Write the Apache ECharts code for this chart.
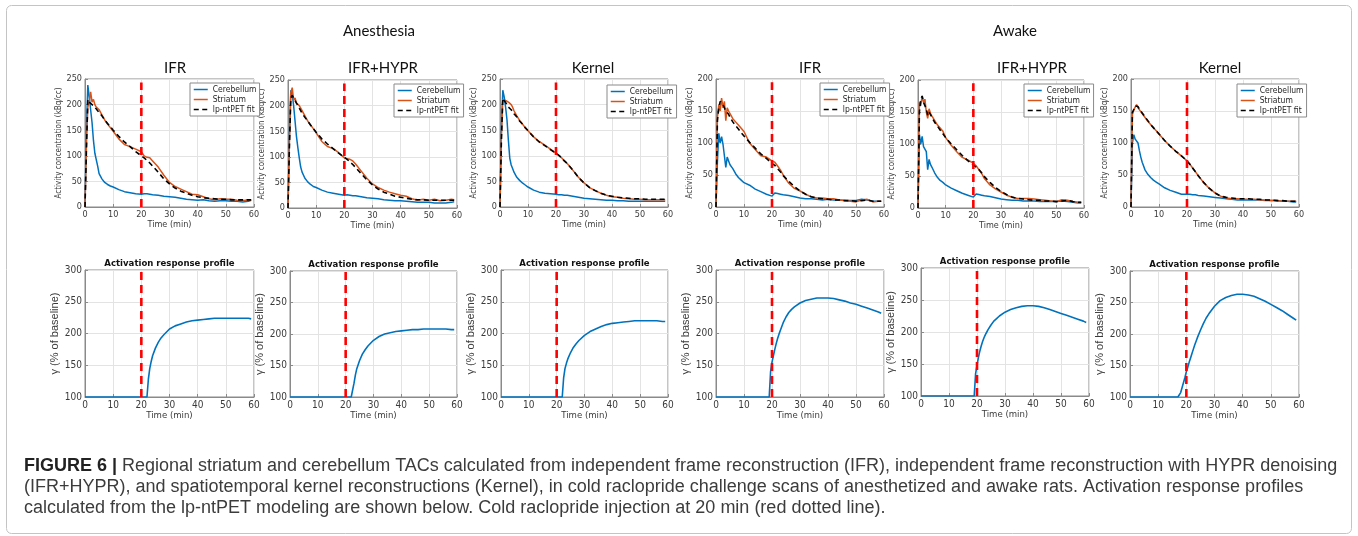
<!DOCTYPE html>
<html>
<head>
<meta charset="utf-8">
<title>Figure 6 - TACs and activation response profiles</title>
<script src="https://cdn.jsdelivr.net/npm/echarts@6/dist/echarts.min.js"></script>
<style>
  html, body { margin: 0; padding: 0; background: #ffffff; }
  #main { width: 1358px; height: 536px; }
</style>
</head>
<body>
<div id="main"></div>
<script>
// frame mid times (min) shared by all TAC panels
var tacTimes = [0, 0.5, 1, 1.5, 2, 2.5, 3, 3.5, 4, 4.5, 5, 6, 7, 8, 9, 10, 12, 14, 16, 18, 20,
  21, 22, 23, 24, 26, 28, 30, 32, 34, 36, 38, 40, 42, 44, 46, 48, 50, 52, 54, 56, 58, 59];

// Anesthesia - IFR
var cerAnIFR = [0, 150, 238, 215, 190, 165, 130, 105, 102, 80, 65, 55, 48, 44, 41, 39, 34, 30, 28, 26, 25,
  26, 26, 25, 24, 23, 21, 20, 19, 17, 15, 14, 13, 14, 12, 11, 12, 12, 11, 11, 10, 11, 13];
var strAnIFR = [0, 120, 195, 205, 225, 205, 210, 200, 195, 198, 190, 180, 170, 162, 155, 148, 133, 122, 118, 113, 108,
  100, 97, 96, 90, 78, 62, 48, 40, 35, 30, 25, 24, 20, 16, 14, 16, 15, 15, 13, 12, 14, 13];
var fitAnIFR = [0, 110, 210, 205, 203, 200, 198, 195, 192, 188, 185, 178, 170, 163, 157, 150, 138, 127, 118, 108, 100,
  96, 91, 86, 80, 68, 55, 45, 37, 31, 27, 23, 20, 18, 17, 16, 15, 15, 14, 14, 14, 14, 14];

// Anesthesia - IFR+HYPR
var cerAnHYPR = [0, 140, 230, 222, 200, 170, 140, 118, 98, 80, 70, 58, 51, 46, 42, 40, 35, 31, 29, 27, 25,
  26, 25, 24, 24, 22, 20, 19, 18, 16, 15, 14, 14, 13, 12, 11, 11, 11, 10, 10, 10, 11, 12];
var strAnHYPR = [0, 130, 225, 235, 210, 215, 205, 202, 200, 195, 190, 180, 170, 162, 155, 147, 130, 120, 116, 108, 98,
  96, 95, 92, 86, 72, 58, 47, 40, 35, 31, 28, 25, 23, 18, 15, 17, 15, 17, 14, 15, 17, 16];
var fitAnHYPR = [0, 120, 215, 220, 215, 210, 205, 200, 195, 190, 185, 177, 170, 162, 155, 148, 135, 125, 116, 107, 99,
  95, 90, 85, 79, 67, 55, 45, 37, 31, 27, 23, 21, 19, 17, 16, 16, 15, 15, 15, 15, 15, 15];

// Anesthesia - Kernel
var cerAnKernel = [0, 150, 228, 215, 195, 170, 130, 95, 82, 75, 68, 58, 52, 47, 43, 39, 33, 29, 27, 26, 25,
  24, 24, 23, 23, 21, 19, 17, 16, 15, 14, 13, 13, 12, 12, 11, 11, 11, 11, 11, 11, 11, 11];
var strAnKernel = [0, 140, 210, 210, 208, 207, 205, 203, 200, 195, 188, 178, 169, 162, 155, 149, 137, 128, 121, 113, 105,
  101, 96, 90, 85, 72, 58, 47, 38, 32, 27, 23, 20, 19, 17, 16, 15, 15, 14, 14, 14, 14, 14];
var fitAnKernel = [0, 130, 212, 208, 205, 200, 195, 192, 190, 186, 182, 176, 168, 162, 155, 149, 137, 127, 120, 112, 105,
  101, 96, 90, 85, 72, 58, 47, 38, 32, 27, 23, 21, 19, 18, 17, 16, 16, 15, 15, 15, 15, 15];

// Awake - IFR
var cerAwIFR = [0, 70, 115, 100, 110, 98, 100, 62, 78, 72, 66, 60, 52, 46, 42, 38, 34, 28, 24, 20, 17,
  22, 21, 20, 19, 18, 16, 14, 13, 13, 12, 11, 12, 11, 11, 10, 10, 10, 12, 11, 9, 9, 9];
var strAwIFR = [0, 140, 160, 150, 170, 155, 165, 135, 155, 150, 147, 138, 133, 128, 123, 118, 100, 90, 80, 78, 72,
  70, 64, 58, 50, 37, 29, 25, 20, 16, 14, 14, 13, 13, 11, 10, 9, 8, 11, 12, 8, 9, 9];
var fitAwIFR = [0, 135, 155, 165, 168, 160, 155, 150, 148, 145, 140, 133, 127, 122, 116, 111, 101, 92, 83, 76, 68,
  65, 60, 55, 49, 40, 32, 25, 20, 16, 14, 13, 12, 11, 11, 10, 10, 9, 10, 11, 9, 9, 9];

// Awake - IFR+HYPR
var cerAwHYPR = [0, 115, 100, 112, 96, 92, 88, 60, 76, 68, 64, 55, 48, 43, 40, 36, 31, 27, 23, 20, 17,
  22, 21, 20, 19, 18, 16, 14, 13, 12, 12, 11, 11, 11, 10, 10, 10, 10, 11, 10, 9, 8, 8];
var strAwHYPR = [0, 165, 160, 175, 165, 170, 150, 140, 155, 148, 144, 137, 130, 125, 120, 110, 98, 88, 79, 75, 70,
  66, 60, 54, 46, 36, 30, 25, 20, 17, 15, 15, 15, 14, 13, 12, 11, 10, 13, 12, 10, 9, 9];
var fitAwHYPR = [0, 150, 170, 175, 165, 160, 155, 145, 150, 146, 142, 134, 128, 122, 116, 110, 100, 91, 82, 74, 67,
  64, 60, 55, 49, 40, 32, 26, 21, 17, 15, 14, 13, 12, 12, 11, 11, 10, 11, 12, 10, 9, 9];

// Awake - Kernel
var cerAwKernel = [0, 100, 113, 106, 105, 100, 88, 78, 70, 64, 58, 51, 46, 42, 39, 36, 30, 26, 23, 20, 20,
  20, 19, 19, 18, 17, 16, 15, 14, 13, 12, 11, 11, 11, 11, 11, 10, 10, 10, 9, 9, 8, 8];
var strAwKernel = [0, 145, 152, 155, 160, 155, 152, 149, 146, 143, 140, 134, 129, 124, 119, 114, 104, 95, 87, 80, 72,
  67, 61, 55, 49, 38, 29, 22, 17, 14, 13, 13, 12, 12, 12, 11, 11, 10, 10, 9, 9, 9, 9];
var fitAwKernel = [0, 148, 152, 158, 160, 157, 153, 150, 147, 144, 141, 135, 129, 124, 119, 114, 104, 95, 87, 80, 72,
  67, 61, 55, 49, 38, 29, 22, 17, 15, 14, 13, 13, 13, 12, 12, 11, 11, 10, 10, 9, 9, 9];

// activation response profiles (% of baseline)
var arpTimes = [0, 5, 10, 15, 17, 17.5, 18, 18.5, 19, 19.5, 20, 20.5, 21, 21.5, 22, 22.5, 23, 23.5, 24,
  25, 26, 27, 28, 30, 32, 34, 36, 38, 40, 42, 44, 46, 48, 50, 52, 54, 56, 58, 59];
var arpAnIFR = [100, 100, 100, 100, 100, 100, 100, 100, 100, 100, 100, 100, 100, 100, 100, 128, 145, 156, 165,
  177, 186, 193, 198, 207, 212, 215, 218, 220, 221, 222, 223, 224, 224, 224, 224, 224, 224, 224, 223];
var arpAnHYPR = [100, 100, 100, 100, 100, 100, 100, 100, 100, 100, 100, 100, 100, 100, 100, 100, 122, 135, 145,
  158, 168, 175, 181, 190, 196, 200, 202, 204, 205, 206, 207, 207, 208, 208, 208, 208, 208, 207, 207];
var arpAnKernel = [100, 100, 100, 100, 100, 100, 100, 100, 100, 100, 100, 100, 100, 100, 100, 130, 145, 153, 160,
  170, 178, 184, 189, 197, 203, 207, 211, 214, 216, 217, 218, 219, 220, 220, 220, 220, 220, 219, 219];
var arpAwIFR = [100, 100, 100, 100, 100, 100, 100, 100, 100, 140, 155, 165, 175, 184, 192, 199, 205, 211, 217,
  226, 233, 238, 242, 248, 252, 254, 256, 256, 256, 255, 253, 251, 248, 246, 243, 240, 237, 234, 232];
var arpAwHYPR = [100, 100, 100, 100, 100, 100, 100, 100, 100, 135, 148, 160, 170, 178, 185, 191, 196, 200, 204,
  211, 217, 221, 225, 231, 235, 238, 240, 241, 241, 240, 238, 235, 232, 229, 226, 223, 220, 217, 215];
var arpAwKernel = [100, 100, 100, 100, 100, 100, 107, 115, 123, 131, 140, 147, 155, 162, 169, 176, 183, 189, 195,
  206, 216, 225, 232, 244, 253, 258, 261, 263, 263, 262, 260, 256, 252, 247, 242, 237, 231, 225, 222];

// cold raclopride injection (red dashed line)
var injTime = 20;
var injSpanAnesthesia = [0, 243];
var injSpanAwake = [0, 195];
var injSpanArp = [100, 300];

var seriesNames = ['Cerebellum', 'Striatum', 'lp-ntPET fit'];
var panelTitles = ['IFR', 'IFR+HYPR', 'Kernel', 'IFR', 'IFR+HYPR', 'Kernel'];
var groupTitles = ['Anesthesia', 'Awake'];
var arpTitle = 'Activation response profile';
var captionBold = 'FIGURE 6 | ';
var captionLines = [
  'Regional striatum and cerebellum TACs calculated from independent frame reconstruction (IFR), independent frame reconstruction with HYPR denoising',
  '(IFR+HYPR), and spatiotemporal kernel reconstructions (Kernel), in cold raclopride challenge scans of anesthetized and awake rats. Activation response profiles',
  'calculated from the lp-ntPET modeling are shown below. Cold raclopride injection at 20 min (red dotted line).'
];

var BLUE = '#0072BD', ORANGE = '#D95319', RED = '#FF0000';
var AXIS = '#8a8a8a', GRIDLINE = '#e3e3e3', TEXT = '#3a3a3a';
var NARROW = "'Liberation Sans Narrow', 'DejaVu Sans Condensed', 'Liberation Sans', sans-serif";
var SANS = "'Liberation Sans', Arial, sans-serif";

// plot boxes [left, top, width, height] in px
var tacPanels = [
  {box: [85, 79, 169, 128], yMax: 250, cer: cerAnIFR, str: strAnIFR, fit: fitAnIFR, inj: injSpanAnesthesia, legend: [190, 83], tx: 175},
  {box: [288, 80, 169, 128], yMax: 250, cer: cerAnHYPR, str: strAnHYPR, fit: fitAnHYPR, inj: injSpanAnesthesia, legend: [394, 84], tx: 383},
  {box: [500, 79, 168, 128], yMax: 250, cer: cerAnKernel, str: strAnKernel, fit: fitAnKernel, inj: injSpanAnesthesia, legend: [607, 85], tx: 593},
  {box: [716, 79, 168, 128], yMax: 200, cer: cerAwIFR, str: strAwIFR, fit: fitAwIFR, inj: injSpanAwake, legend: [820, 83], tx: 810},
  {box: [918, 80, 166, 128], yMax: 200, cer: cerAwHYPR, str: strAwHYPR, fit: fitAwHYPR, inj: injSpanAwake, legend: [1024, 84], tx: 1032},
  {box: [1131, 79, 168, 128], yMax: 200, cer: cerAwKernel, str: strAwKernel, fit: fitAwKernel, inj: injSpanAwake, legend: [1237, 84], tx: 1220}
];
var arpPanels = [
  {box: [85, 270, 169, 127], arp: arpAnIFR},
  {box: [290, 271, 167, 126], arp: arpAnHYPR},
  {box: [501, 270, 167, 127], arp: arpAnKernel},
  {box: [716, 270, 168, 127], arp: arpAwIFR},
  {box: [921, 268, 168, 128], arp: arpAwHYPR},
  {box: [1130, 271, 169, 126], arp: arpAwKernel}
];

function pairs(xs, ys) {
  return xs.map(function (x, i) { return [x, ys[i]]; });
}

function axisBase(labelSize) {
  return {
    type: 'value',
    nameLocation: 'middle',
    axisLine: {show: true, lineStyle: {color: AXIS, width: 1}},
    axisTick: {show: true, inside: true, length: 3, lineStyle: {color: AXIS}},
    axisLabel: {color: TEXT, fontSize: labelSize, fontFamily: NARROW, margin: 3},
    splitLine: {show: true, lineStyle: {color: GRIDLINE, width: 1}}
  };
}

var grids = [], xAxes = [], yAxes = [], series = [], legends = [], graphics = [];

function addGrid(box) {
  grids.push({
    left: box[0], top: box[1], width: box[2], height: box[3],
    show: true, borderColor: AXIS, borderWidth: 1, backgroundColor: '#fff',
    containLabel: false, outerBoundsMode: 'none'
  });
  return grids.length - 1;
}

function lineSeries(name, idx, data, color, width, dash, z) {
  return {
    name: name, type: 'line', xAxisIndex: idx, yAxisIndex: idx,
    data: data, symbol: 'none', showSymbol: false, animation: false, z: z,
    color: color, itemStyle: {color: color},
    lineStyle: {color: color, width: width, type: dash}
  };
}

// top row: time activity curves
tacPanels.forEach(function (p, i) {
  var idx = addGrid(p.box);
  xAxes.push(Object.assign(axisBase(9), {
    gridIndex: idx, min: 0, max: 60, interval: 10,
    name: 'Time (min)', nameGap: 12,
    nameTextStyle: {color: TEXT, fontSize: 9, fontFamily: NARROW}
  }));
  yAxes.push(Object.assign(axisBase(9), {
    gridIndex: idx, min: 0, max: p.yMax, interval: 50,
    name: 'Activity concentration (kBq/cc)', nameGap: 19,
    nameTextStyle: {color: TEXT, fontSize: 8, fontFamily: NARROW}
  }));
  series.push(lineSeries(seriesNames[0], idx, pairs(tacTimes, p.cer), BLUE, 1.5, 'solid', 2));
  series.push(lineSeries(seriesNames[1], idx, pairs(tacTimes, p.str), ORANGE, 1.5, 'solid', 3));
  series.push(lineSeries(seriesNames[2], idx, pairs(tacTimes, p.fit), '#000000', 1.6, [5, 3.5], 4));
  series.push(lineSeries('injection', idx, [[injTime, p.inj[0]], [injTime, p.inj[1]]], RED, 2.6, [8, 5], 5));
  legends.push({
    left: p.legend[0], top: p.legend[1], orient: 'vertical',
    data: seriesNames, selectedMode: false,
    itemWidth: 14, itemHeight: 8, itemGap: 1,
    padding: [2, 3, 2, 3], borderColor: AXIS, borderWidth: 1, borderRadius: 0,
    backgroundColor: '#ffffff',
    // hide the marker dot, keep the line sample
    itemStyle: {opacity: 0, color: 'rgba(0,0,0,0)', borderColor: 'rgba(0,0,0,0)'},
    lineStyle: {width: 1.5},
    textStyle: {color: '#262626', fontSize: 8.5, fontFamily: NARROW, lineHeight: 9}
  });
  graphics.push({
    type: 'text', silent: true,
    style: {x: p.tx, y: 68, text: panelTitles[i], fill: '#111', font: '15px Lato, "Open Sans", sans-serif',
      textAlign: 'center', textVerticalAlign: 'middle'}
  });
});

// bottom row: activation response profiles
arpPanels.forEach(function (p) {
  var idx = addGrid(p.box);
  xAxes.push(Object.assign(axisBase(10), {
    gridIndex: idx, min: 0, max: 60, interval: 10,
    name: 'Time (min)', nameGap: 13,
    nameTextStyle: {color: TEXT, fontSize: 9.5, fontFamily: NARROW}
  }));
  yAxes.push(Object.assign(axisBase(10), {
    gridIndex: idx, min: 100, max: 300, interval: 50,
    name: 'γ (% of baseline)', nameGap: 18,
    nameTextStyle: {color: TEXT, fontSize: 11, fontFamily: SANS}
  }));
  series.push(lineSeries('response', idx, pairs(arpTimes, p.arp), BLUE, 1.6, 'solid', 2));
  series.push(lineSeries('injection', idx, [[injTime, injSpanArp[0]], [injTime, injSpanArp[1]]], RED, 2.6, [8, 5], 5));
  graphics.push({
    type: 'text', silent: true,
    style: {x: p.box[0] + p.box[2] / 2, y: p.box[1] - 6, text: arpTitle, fill: '#111',
      font: 'bold 9.5px ' + NARROW, textAlign: 'center', textVerticalAlign: 'middle'}
  });
});

// group headings
graphics.push({type: 'text', silent: true, style: {x: 379, y: 31, text: groupTitles[0], fill: '#111',
  font: '15px Lato, "Open Sans", sans-serif', textAlign: 'center', textVerticalAlign: 'middle'}});
graphics.push({type: 'text', silent: true, style: {x: 1015, y: 31, text: groupTitles[1], fill: '#111',
  font: '15px Lato, "Open Sans", sans-serif', textAlign: 'center', textVerticalAlign: 'middle'}});

// caption: size the font so the first line fills the measured width
var ctx = document.createElement('canvas').getContext('2d');
ctx.font = 'bold 16px ' + SANS;
var wBold = ctx.measureText(captionBold).width;
ctx.font = '16px ' + SANS;
var wRest = ctx.measureText(captionLines[0]).width;
var capSize = 16 * 1313 / (wBold + wRest);
var capBoldW = wBold * capSize / 16;
var capY = [466, 487, 508];
graphics.push({type: 'text', silent: true, style: {x: 24, y: capY[0], text: captionBold, fill: '#222',
  font: 'bold ' + capSize.toFixed(2) + 'px ' + SANS, textVerticalAlign: 'middle'}});
captionLines.forEach(function (line, i) {
  graphics.push({type: 'text', silent: true, style: {x: i === 0 ? 24 + capBoldW : 24, y: capY[i], text: line, fill: '#3c3c3c',
    font: capSize.toFixed(2) + 'px ' + SANS, textVerticalAlign: 'middle'}});
});

// outer frame
graphics.push({type: 'rect', silent: true, z: -1,
  shape: {x: 6.5, y: 5.5, width: 1345, height: 528, r: 5},
  style: {fill: 'none', stroke: '#c4c4c4', lineWidth: 1}});

var chart = echarts.init(document.getElementById('main'));
chart.setOption({
  backgroundColor: '#ffffff',
  animation: false,
  grid: grids,
  xAxis: xAxes,
  yAxis: yAxes,
  legend: legends,
  series: series,
  graphic: graphics
});
</script>
</body>
</html>
